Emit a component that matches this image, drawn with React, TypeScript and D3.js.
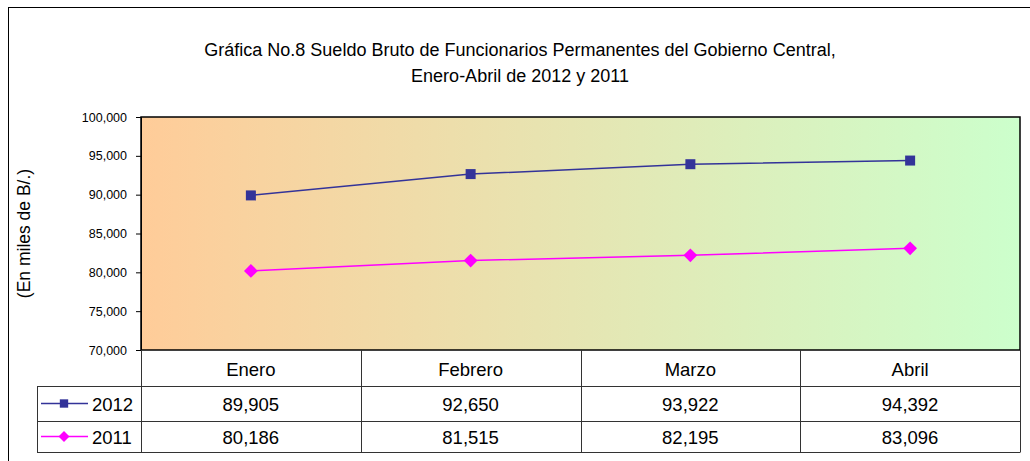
import React, { useEffect, useRef } from "react";
import * as d3 from "d3";

const months = ["Enero", "Febrero", "Marzo", "Abril"];
const series2012 = [89905, 92650, 93922, 94392];
const series2011 = [80186, 81515, 82195, 83096];
const yTicks = [70000, 75000, 80000, 85000, 90000, 95000, 100000];

const W = 1030;
const H = 461;

const App = () => {
  const svgRef = useRef<SVGSVGElement>(null);

  useEffect(() => {
    const svg = d3.select(svgRef.current);
    svg.selectAll("*").remove();

    const left = 141;
    const right = 1020;
    const top = 117;
    const bottom = 350;
    const font = "Arial, 'Liberation Sans', sans-serif";

    const x = d3.scaleBand<string>().domain(months).range([left, right]);
    const y = d3.scaleLinear().domain([70000, 100000]).range([bottom, top]);

    // outer frame
    svg.append("rect")
      .attr("x", 8.5).attr("y", 7.5)
      .attr("width", 1040).attr("height", 470)
      .attr("fill", "white").attr("stroke", "#000").attr("stroke-width", 1);

    // title
    const title = svg.append("text")
      .attr("text-anchor", "middle")
      .attr("font-family", font)
      .attr("font-size", 18)
      .attr("fill", "#000");
    title.append("tspan").attr("x", 520).attr("y", 56)
      .text("Gráfica No.8 Sueldo Bruto de Funcionarios Permanentes del Gobierno Central,");
    title.append("tspan").attr("x", 520).attr("y", 82)
      .text("Enero-Abril de 2012 y 2011");

    // gradient background
    const defs = svg.append("defs");
    const grad = defs.append("linearGradient").attr("id", "bg")
      .attr("x1", "0%").attr("x2", "100%").attr("y1", "0%").attr("y2", "0%");
    grad.append("stop").attr("offset", "0%").attr("stop-color", "#FFCC99");
    grad.append("stop").attr("offset", "100%").attr("stop-color", "#CCFFCC");

    svg.append("rect")
      .attr("x", left).attr("y", top)
      .attr("width", right - left).attr("height", bottom - top)
      .attr("fill", "url(#bg)")
      .attr("stroke", "#000").attr("stroke-width", 1.5);

    // y axis
    const yAxis = svg.append("g")
      .attr("transform", `translate(${left},0)`)
      .call(d3.axisLeft(y).tickValues(yTicks).tickSize(5).tickPadding(9).tickFormat(d3.format(",")));
    yAxis.select(".domain").attr("stroke", "#000");
    yAxis.selectAll("text").attr("font-family", font).attr("font-size", 12.5).attr("fill", "#000");

    svg.append("text")
      .attr("transform", `translate(30,${(top + bottom) / 2}) rotate(-90)`)
      .attr("text-anchor", "middle")
      .attr("font-family", font)
      .attr("font-size", 17.5)
      .text("(En miles de B/.)");

    // lines
    const cx = (m: string) => (x(m) ?? 0) + x.bandwidth() / 2;
    const line = d3.line<number>().x((_, i) => cx(months[i])).y(d => y(d));

    svg.append("path").datum(series2011)
      .attr("d", line).attr("fill", "none").attr("stroke", "#FF00FF").attr("stroke-width", 1.5);
    svg.append("path").datum(series2012)
      .attr("d", line).attr("fill", "none").attr("stroke", "#333399").attr("stroke-width", 1.5);

    const sq = d3.symbol().type(d3.symbolSquare).size(100);
    // excel style diamond = square turned 45 deg
    const dm = d3.symbol().type(d3.symbolSquare).size(95);

    svg.selectAll(".m2012").data(series2012).enter().append("path")
      .attr("transform", (d, i) => `translate(${cx(months[i])},${y(d)})`)
      .attr("d", sq).attr("fill", "#333399");
    svg.selectAll(".m2011").data(series2011).enter().append("path")
      .attr("transform", (d, i) => `translate(${cx(months[i])},${y(d)}) rotate(45)`)
      .attr("d", dm).attr("fill", "#FF00FF");

    // data table
    const rowH = [bottom, 386, 421, 452];
    const tableLeft = 37;
    const g = svg.append("g").attr("stroke", "#333").attr("stroke-width", 1).attr("fill", "none");
    // horizontal lines
    g.append("line").attr("x1", tableLeft).attr("x2", right).attr("y1", rowH[1] + 0.5).attr("y2", rowH[1] + 0.5);
    g.append("line").attr("x1", tableLeft).attr("x2", right).attr("y1", rowH[2] + 0.5).attr("y2", rowH[2] + 0.5);
    g.append("line").attr("x1", tableLeft).attr("x2", right).attr("y1", rowH[3] + 0.5).attr("y2", rowH[3] + 0.5);
    // vertical lines
    g.append("line").attr("x1", tableLeft + 0.5).attr("x2", tableLeft + 0.5).attr("y1", rowH[1]).attr("y2", rowH[3] + 0.5);
    months.forEach(m => {
      const xx = Math.round(x(m) ?? 0) + 0.5;
      g.append("line").attr("x1", xx).attr("x2", xx).attr("y1", bottom).attr("y2", rowH[3] + 0.5);
    });
    g.append("line").attr("x1", right + 0.5).attr("x2", right + 0.5).attr("y1", bottom).attr("y2", rowH[3] + 0.5);

    const fmt = d3.format(",");
    const cellText = (txt: string, xx: number, yy: number) =>
      svg.append("text").attr("x", xx).attr("y", yy)
        .attr("text-anchor", "middle").attr("dominant-baseline", "central")
        .attr("font-family", font).attr("font-size", 18.5).attr("fill", "#000").text(txt);

    months.forEach((m, i) => {
      cellText(m, cx(m), (rowH[0] + rowH[1]) / 2 + 1);
      cellText(fmt(series2012[i]), cx(m), (rowH[1] + rowH[2]) / 2 + 1);
      cellText(fmt(series2011[i]), cx(m), (rowH[2] + rowH[3]) / 2 + 1);
    });

    // legend keys
    const keys = [
      { label: "2012", color: "#333399", size: 70, rot: 0, yy: (rowH[1] + rowH[2]) / 2 },
      { label: "2011", color: "#FF00FF", size: 60, rot: 45, yy: (rowH[2] + rowH[3]) / 2 },
    ];
    keys.forEach(k => {
      svg.append("line").attr("x1", 41).attr("x2", 88).attr("y1", k.yy).attr("y2", k.yy)
        .attr("stroke", k.color).attr("stroke-width", 1.5);
      svg.append("path").attr("transform", `translate(64,${k.yy}) rotate(${k.rot})`)
        .attr("d", d3.symbol().type(d3.symbolSquare).size(k.size)).attr("fill", k.color);
      svg.append("text").attr("x", 92).attr("y", k.yy + 1)
        .attr("dominant-baseline", "central")
        .attr("font-family", font).attr("font-size", 18.5).attr("fill", "#000").text(k.label);
    });
  }, []);

  return (
    <svg ref={svgRef} width={W} height={H} style={{ position: "absolute", left: 0, top: 0, display: "block" }} />
  );
};

export default App;
